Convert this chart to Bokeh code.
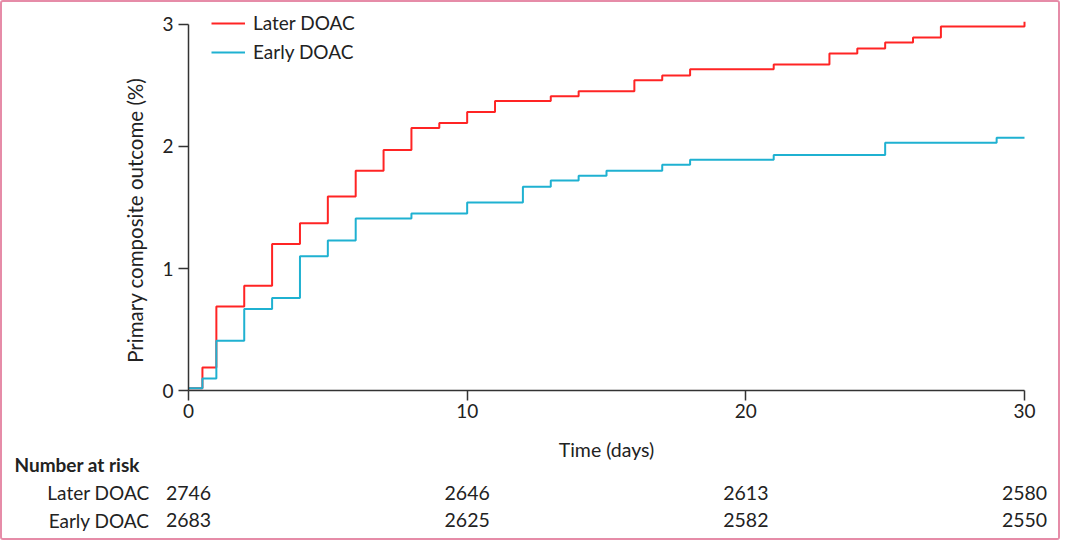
from bokeh.plotting import figure
from bokeh.models import Range1d, Legend, LegendItem, ColumnDataSource, FixedTicker, LinearAxis
from bokeh.core.properties import value
from bokeh.embed import file_html
from bokeh.resources import INLINE
import math

# ---- data ----
later_t = [0, 0.5, 1, 2, 3, 4, 5, 6, 7, 8, 9, 10, 11, 13, 14, 16, 17, 18, 21, 23, 24, 25, 26, 27, 30]
later_y = [0.02, 0.19, 0.69, 0.86, 1.20, 1.37, 1.59, 1.80, 1.97, 2.15, 2.19, 2.28, 2.37, 2.41, 2.45,
           2.54, 2.58, 2.63, 2.67, 2.76, 2.80, 2.85, 2.89, 2.98, 3.02]
early_t = [0, 0.5, 1, 2, 3, 4, 5, 6, 8, 10, 12, 13, 14, 15, 17, 18, 21, 25, 29, 30]
early_y = [0.02, 0.10, 0.41, 0.67, 0.76, 1.10, 1.23, 1.41, 1.45, 1.54, 1.67, 1.72, 1.76, 1.80,
           1.85, 1.89, 1.93, 2.03, 2.07, 2.07]
risk_days = [0, 10, 20, 30]
later_risk = ["2746", "2646", "2613", "2580"]
early_risk = ["2683", "2625", "2582", "2550"]
group_names = ["Later DOAC", "Early DOAC"]
x_ticks = [0, 10, 20, 30]
y_ticks = [0, 1, 2, 3]

FONT = "Lato"
RED = "#ff2424"
BLUE = "#1fb1d1"
TXT = "#222222"
AX = "#333333"

W, H = 1060, 540
X0_PX, Y0_PX = 186, 151.7          # position of the origin inside the canvas (from left / bottom)
PXD, PXY = 836 / 30.0, 122.24      # pixels per day / per percentage point

p = figure(width=W, height=H, output_backend="svg", toolbar_location=None,
           x_range=Range1d(-X0_PX / PXD, (W - X0_PX) / PXD),
           y_range=Range1d(-Y0_PX / PXY, (H - Y0_PX) / PXY),
           x_axis_type=None, y_axis_type=None,
           min_border_left=0, min_border_right=0, min_border_top=0, min_border_bottom=0)
p.grid.visible = False
p.outline_line_color = None
p.styles = {"border": "2px solid #e68ca8", "border-radius": "3px"}

xaxis = LinearAxis(fixed_location=0, bounds=(0, 30), ticker=FixedTicker(ticks=x_ticks))
yaxis = LinearAxis(fixed_location=0, bounds=(0, 3), ticker=FixedTicker(ticks=y_ticks))
for ax in (xaxis, yaxis):
    ax.axis_line_color = AX
    ax.axis_line_width = 1.5
    ax.major_tick_line_color = AX
    ax.major_tick_line_width = 1.5
    ax.major_tick_out = 10
    ax.major_tick_in = 0
    ax.minor_tick_line_color = None
    ax.major_label_text_font = FONT
    ax.major_label_text_font_size = "19px"
    ax.major_label_text_color = TXT
xaxis.major_label_standoff = 3
yaxis.major_label_standoff = 5
p.add_layout(xaxis, "below")
p.add_layout(yaxis, "left")

r_later = p.step(later_t, later_y, mode="after", line_color=RED, line_width=2)
r_early = p.step(early_t, early_y, mode="after", line_color=BLUE, line_width=2)

# axis titles
p.text(x=[-54 / PXD], y=[1.395], text=["Primary composite outcome (%)"], angle=math.pi / 2,
       text_font=value(FONT), text_font_size="20.5px", text_color=TXT,
       text_align="center", text_baseline="middle")
p.text(x=[15], y=[-0.48], text=["Time (days)"], text_font=value(FONT), text_font_size="19.5px",
       text_color=TXT, text_align="center", text_baseline="middle")

# number at risk table
p.text(x=[-174 / PXD], y=[-0.603], text=["Number at risk"], text_font=value(FONT),
       text_font_size="19px", text_font_style="bold", text_color=TXT,
       text_align="left", text_baseline="middle")
p.text(x=[-39 / PXD] * 2, y=[-0.832, -1.061], text=group_names, text_font=value(FONT),
       text_font_size="19px", text_color=TXT, text_align="right", text_baseline="middle")
src = ColumnDataSource(dict(t=risk_days, later=later_risk, early=early_risk))
p.text(x="t", y=-0.832, text="later", source=src, text_font=value(FONT), text_font_size="19.5px",
       text_color=TXT, text_align="center", text_baseline="middle")
p.text(x="t", y=-1.061, text="early", source=src, text_font=value(FONT), text_font_size="19.5px",
       text_color=TXT, text_align="center", text_baseline="middle")

legend = Legend(items=[LegendItem(label=group_names[0], renderers=[r_later]),
                       LegendItem(label=group_names[1], renderers=[r_early])],
                location=(209, 479), border_line_color=None, background_fill_alpha=0,
                padding=5, margin=0, spacing=6, label_height=20, glyph_height=20,
                glyph_width=34, label_standoff=8,
                label_text_font=FONT, label_text_font_size="19px", label_text_color=TXT)
p.add_layout(legend)

open("out.html", "w").write(file_html(p, INLINE))
